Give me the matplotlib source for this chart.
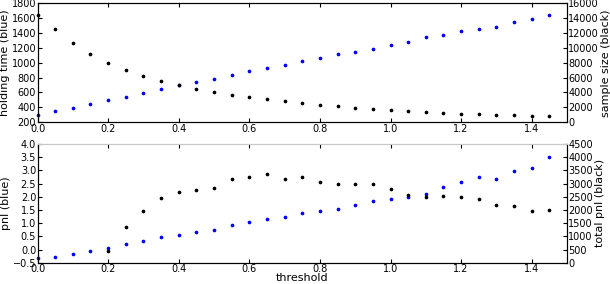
import matplotlib
matplotlib.use("Agg")
import matplotlib.pyplot as plt
from matplotlib.ticker import MultipleLocator

# threshold values shared by both panels
threshold = [0.0, 0.05, 0.1, 0.15, 0.2, 0.25, 0.3, 0.35, 0.4, 0.45, 0.5, 0.55, 0.6, 0.65, 0.7, 0.75,
             0.8, 0.85, 0.9, 0.95, 1.0, 1.05, 1.1, 1.15, 1.2, 1.25, 1.3, 1.35, 1.4, 1.45]

holding_time = [300, 349, 394, 439, 497, 542, 587, 641, 695, 740, 785, 830, 884, 934, 974, 1019,
                1064, 1114, 1145, 1181, 1240, 1285, 1348, 1375, 1424, 1451, 1487, 1550, 1595, 1640]

sample_size = [14500, 12500, 10700, 9200, 8000, 7060, 6200, 5530, 4950, 4500, 4100, 3650, 3330, 3060, 2830, 2610,
               2340, 2120, 1940, 1800, 1620, 1490, 1350, 1220, 1120, 1040, 990, 900, 860, 770]

pnl = [-0.34, -0.27, -0.17, -0.05, 0.04, 0.2, 0.33, 0.46, 0.55, 0.65, 0.74, 0.92, 1.03, 1.17, 1.23, 1.38,
       1.46, 1.55, 1.67, 1.84, 1.93, 1.98, 2.1, 2.36, 2.56, 2.74, 2.69, 2.96, 3.08, 3.5]

# total pnl starts at threshold 0.2 (lower ones fall below the axis)
total_threshold = threshold[4:]
total_pnl = [455, 1340, 1960, 2440, 2670, 2740, 2840, 3160, 3260, 3350, 3160, 3250,
             3070, 2970, 3000, 3000, 2810, 2550, 2490, 2540, 2480, 2430, 2170, 2150, 1970, 2000]

tfs = 7
lfs = 8
ms = 3.3
fig = plt.figure(figsize=(6.1, 2.84), dpi=100)
fig.patch.set_facecolor("white")


def style(ax):
    ax.tick_params(direction="in", labelsize=tfs, length=3, pad=1, top=True)
    ax.set_xlim(0, 1.5)
    ax.set_xticks([0.0, 0.2, 0.4, 0.6, 0.8, 1.0, 1.2, 1.4])


# top panel
ax1 = fig.add_axes([0.0615, 0.570, 0.868, 0.418])
ax1.plot(threshold, holding_time, ".", color="blue", markersize=ms, clip_on=False)
ax1.set_ylim(200, 1800)
ax1.yaxis.set_major_locator(MultipleLocator(200))
ax1.set_ylabel("holding time (blue)", fontsize=lfs, labelpad=1)
style(ax1)
ax1b = ax1.twinx()
ax1b.plot(threshold, sample_size, ".", color="black", markersize=ms, clip_on=False)
ax1b.set_ylim(0, 16000)
ax1b.yaxis.set_major_locator(MultipleLocator(2000))
ax1b.set_ylabel("sample size (black)", fontsize=lfs, labelpad=1)
ax1b.tick_params(direction="in", labelsize=tfs, length=3, pad=1)

# bottom panel
ax2 = fig.add_axes([0.0615, 0.075, 0.868, 0.418])
ax2.plot(threshold, pnl, ".", color="blue", markersize=ms, clip_on=False)
ax2.set_ylim(-0.5, 4.0)
ax2.yaxis.set_major_locator(MultipleLocator(0.5))
ax2.set_ylabel("pnl (blue)", fontsize=lfs, labelpad=1)
ax2.set_xlabel("threshold", fontsize=lfs, labelpad=-1)
style(ax2)
ax2b = ax2.twinx()
ax2b.plot(total_threshold, total_pnl, ".", color="black", markersize=ms)
ax2b.set_ylim(0, 4500)
ax2b.yaxis.set_major_locator(MultipleLocator(500))
ax2b.set_ylabel("total pnl (black)", fontsize=lfs, labelpad=1)
ax2b.tick_params(direction="in", labelsize=tfs, length=3, pad=1)
for a in (ax2, ax2b):
    a.spines["top"].set_color("#c8c8c8")

fig.savefig("out.png", dpi=100, facecolor="white")
